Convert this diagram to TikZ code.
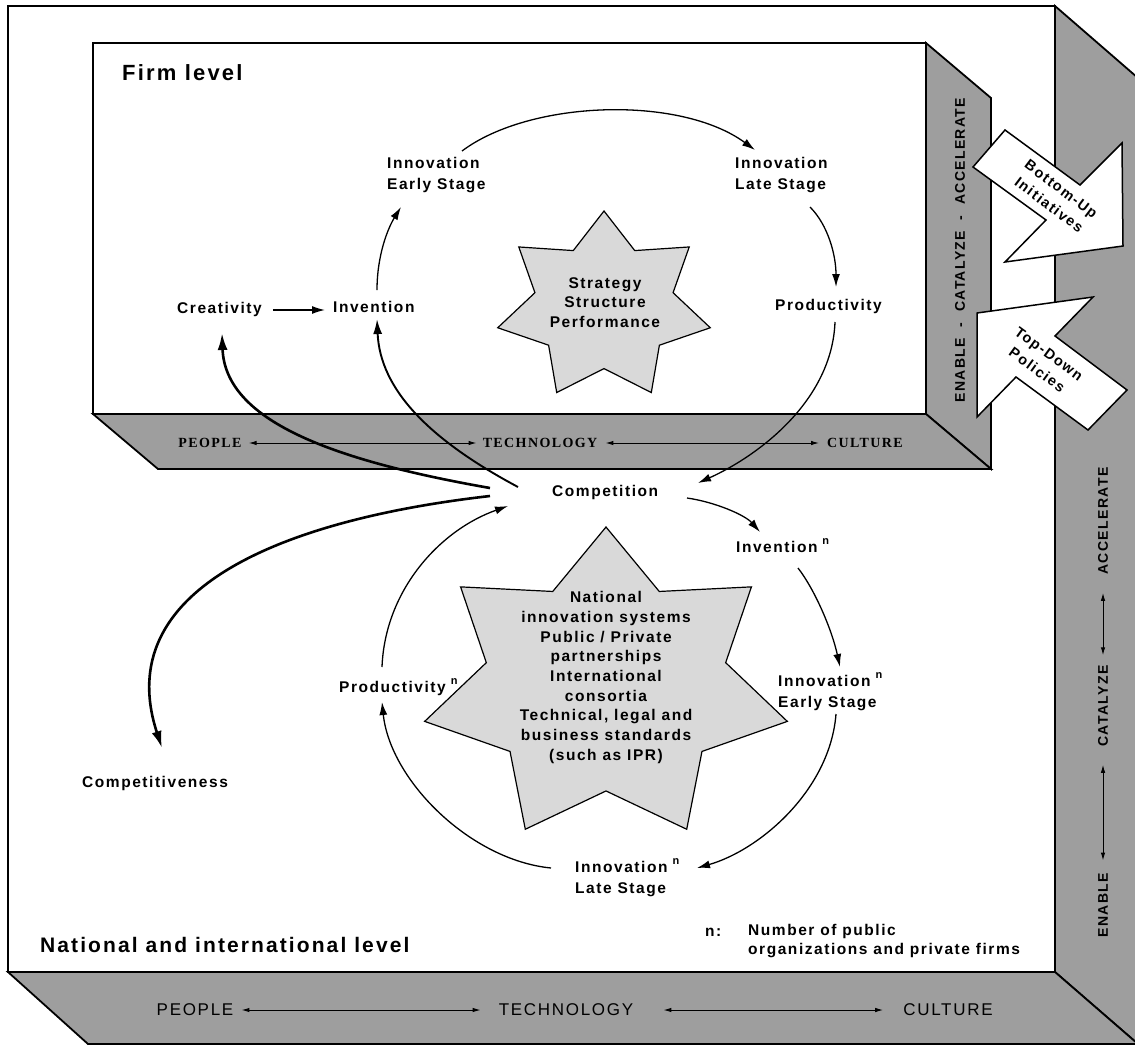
\documentclass[tikz,border=0pt]{standalone}
\usepackage{fontspec}
\setmainfont{Liberation Sans}
\newfontfamily\sansls{Liberation Sans}[LetterSpace=10]
\newfontfamily\serifls{Liberation Serif}[LetterSpace=10]
\usetikzlibrary{arrows.meta,calc}
\definecolor{bandgray}{gray}{0.62}
\definecolor{stargray}{gray}{0.85}
\tikzset{
  face/.style={fill=bandgray, draw=black, line width=1.8pt, line join=miter},
  frontface/.style={fill=white, draw=black, line width=1.8pt},
  starsty/.style={fill=stargray, draw=black, line width=1.2pt, line join=miter},
  bigarrow/.style={fill=white, draw=black, line width=1.5pt, line join=miter},
  lbl/.style={font=\sansls\bfseries\fontsize{15.5}{21}\selectfont, inner sep=0pt, align=left, anchor=west},
  title/.style={font=\sansls\bfseries\fontsize{22}{26}\selectfont, inner sep=0pt, anchor=west},
  startxt/.style={font=\sansls\bfseries\fontsize{15.5}{19.7}\selectfont, inner sep=0pt, align=center},
  firmband/.style={font=\serifls\bfseries\fontsize{14}{16}\selectfont, inner sep=0pt},
  outerband/.style={font=\sansls\fontsize{17}{19}\selectfont, inner sep=0pt},
  vband/.style={font=\sansls\bfseries\fontsize{14}{16}\selectfont, inner sep=0pt, rotate=90},
  arrtxt/.style={font=\sansls\bfseries\fontsize{14.5}{20}\selectfont, inner sep=0pt, align=center},
  conn/.style={line width=1.3pt, -{Latex[length=13pt,width=8pt]}},
  midconn/.style={line width=1.9pt, -{Latex[length=15pt,width=9pt]}},
  bigconn/.style={line width=2.6pt, -{Latex[length=17pt,width=10pt]}},
  bandarr/.style={line width=1pt, {Latex[length=8pt,width=4.5pt]}-{Latex[length=8pt,width=4.5pt]}},
}
\newcommand{\supn}{\hspace{5pt}\raisebox{8pt}{\fontsize{11}{11}\selectfont n}}
\newcommand{\sevenstar}[5]{%
  \filldraw[starsty] ({#1}, {#2-#4})
    \foreach \i in {1,...,13} {
      -- ({#1+(1-(1-#5)*mod(\i,2))*#3*cos(90+\i*360/14)},
          {#2-(1-(1-#5)*mod(\i,2))*#4*sin(90+\i*360/14)})
    } -- cycle;}
\begin{document}
\begin{tikzpicture}[x=1pt,y=-1pt]
\useasboundingbox (0,0) rectangle (1135,1047);
\clip (0,0) rectangle (1135,1047);
\fill[white] (0,0) rectangle (1135,1047);

% ---------- outer box (national level) ----------
\filldraw[face] (1055,6) -- (1138,78) -- (1138,1044) -- (1055,972) -- cycle;
\filldraw[face] (8,972) -- (1055,972) -- (1138,1044) -- (88,1044) -- cycle;
\draw[frontface] (8,6) rectangle (1055,972);

% ---------- firm box ----------
\filldraw[face] (926,43) -- (991,98) -- (991,469) -- (926,414) -- cycle;
\filldraw[face] (93,414) -- (926,414) -- (991,469) -- (158,469) -- cycle;
\draw[frontface] (93,43) rectangle (926,414);

% ---------- big arrows ----------
\filldraw[bigarrow] (1005,130) -- (1080,185) -- (1122,143) -- (1123,246)
   -- (1005,262) -- (1046,220) -- (973,167) -- cycle;
\filldraw[bigarrow] (1127,390) -- (1055,336) -- (1093,297) -- (977,313)
   -- (977,417) -- (1016,377) -- (1088,430) -- cycle;
\node[arrtxt, rotate=-37] (bu) at (1055,197) {Bottom-Up\\Initiatives};
\node[arrtxt, rotate=-36] (td) at (1043,362) {Top-Down\\Policies};

% ---------- stars ----------
\sevenstar{604}{306.5}{109}{95.5}{0.65}
\sevenstar{606}{686}{186}{159}{0.66}
\node[startxt] (s1) at (605,302.5) {Strategy\\Structure\\Performance};
\node[startxt] (s2) at (606,677.5) {National\\innovation systems\\Public / Private\\partnerships\\International\\consortia\\Technical, legal and\\business standards\\(such as IPR)};

% ---------- band texts ----------
\node[firmband] (fpeo) at (210,443) {PEOPLE};
\node[firmband] (ftec) at (540,443) {TECHNOLOGY};
\node[firmband] (fcul) at (865,443) {CULTURE};
\draw[bandarr] ($(fpeo.east)+(7,0)$) -- ($(ftec.west)+(-6,0)$);
\draw[bandarr] ($(ftec.east)+(8,0)$) -- ($(fcul.west)+(-8,0)$);

\node[outerband] (opeo) at (195,1010) {PEOPLE};
\node[outerband] (otec) at (566,1010) {TECHNOLOGY};
\node[outerband] (ocul) at (948,1010) {CULTURE};
\draw[bandarr] ($(opeo.east)+(8,0)$) -- ($(otec.west)+(-18,0)$);
\draw[bandarr] ($(otec.east)+(30,0)$) -- ($(ocul.west)+(-20,0)$);

\node[vband] (fvb) at (960,250) {ENABLE\ \ -\ \ CATALYZE\ \ -\ \ ACCELERATE};

\node[vband] (oacc) at (1103,521) {ACCELERATE};
\node[vband] (ocat) at (1103,706) {CATALYZE};
\node[vband] (oena) at (1103,905) {ENABLE};
\draw[bandarr] ($(ocat.east)+(0,-10)$) -- ($(oacc.west)+(0,18)$);
\draw[bandarr] ($(oena.east)+(0,-12)$) -- ($(ocat.west)+(0,18)$);

% ---------- labels ----------
\node[title] (firm) at (122,73) {Firm level};
\node[lbl] (early) at (387,175.5) {Innovation\\Early Stage};
\node[lbl] (late) at (735,175.5) {Innovation\\Late Stage};
\node[lbl] (creat) at (177,309) {Creativity};
\node[lbl] (inv) at (333,307) {Invention};
\node[lbl] (prod) at (775,306) {Productivity};
\node[lbl] (comp) at (552,492) {Competition};
\node[lbl] (invn) at (736,546) {Invention\supn};
\node[lbl] (earlyn) at (778,692) {Innovation\supn\\Early Stage};
\node[lbl] (prodn) at (339,687) {Productivity\supn};
\node[lbl] (laten) at (575,877.5) {Innovation\supn\\Late Stage};
\node[lbl] (compet) at (82,783) {Competitiveness};
\node[title, font=\sansls\bfseries\fontsize{21}{25}\selectfont] (natl) at (40,945) {National and international level};
\node[lbl] (notek) at (705,932) {n:};
\node[lbl, font=\sansls\bfseries\fontsize{15.5}{19}\selectfont] (notet) at (748,941.5) {Number of public\\organizations and private firms};

% ---------- connectors: firm level ----------
\draw[conn] ($(creat.east)+(11,1)$) -- ($(inv.west)+(-8,3)$);
\draw[conn] ($(inv.west)+(44,-17)$) .. controls (377,255) and (388,228) .. ($(early.west)+(14,31.5)$);
\draw[conn] ($(early.west)+(75,-24.5)$) .. controls (530,100) and (680,95) .. ($(late.west)+(20,-25.5)$);
\draw[conn] ($(late.west)+(75,31.5)$) .. controls (828,225) and (836,255) .. ($(prod.west)+(61,-19)$);
\draw[conn] ($(prod.west)+(60,16)$) .. controls (832,400) and (760,455) .. ($(comp.west)+(146,-9)$);

% ---------- connectors: competition to firm / competitiveness ----------
\draw[bigconn] ($(comp.west)+(-62,-4)$) .. controls (330,460) and (225,420) .. ($(creat.west)+(45,24)$);
\draw[midconn] ($(comp.west)+(-34,-5)$) .. controls (430,440) and (380,390) .. ($(inv.west)+(44,12)$);
\draw[bigconn] ($(comp.west)+(-62,4)$) .. controls (280,520) and (110,590) .. ($(compet.west)+(80,-35)$);

% ---------- connectors: national level ----------
\draw[conn] ($(comp.west)+(135,6)$) .. controls (715,502) and (745,515) .. ($(invn.west)+(24,-14)$);
\draw[conn] ($(invn.west)+(62,22)$) .. controls (815,590) and (832,630) .. ($(earlyn.west)+(62,-25)$);
\draw[conn] ($(earlyn.west)+(58,22)$) .. controls (830,790) and (760,850) .. ($(laten.west)+(122,-9.5)$);
\draw[conn] ($(laten.west)+(-24,-9.5)$) .. controls (470,860) and (390,780) .. ($(prodn.west)+(43,15)$);
\draw[conn] ($(prodn.west)+(43,-20)$) .. controls (385,590) and (440,530) .. ($(comp.west)+(-44,14)$);
\end{tikzpicture}
\end{document}
